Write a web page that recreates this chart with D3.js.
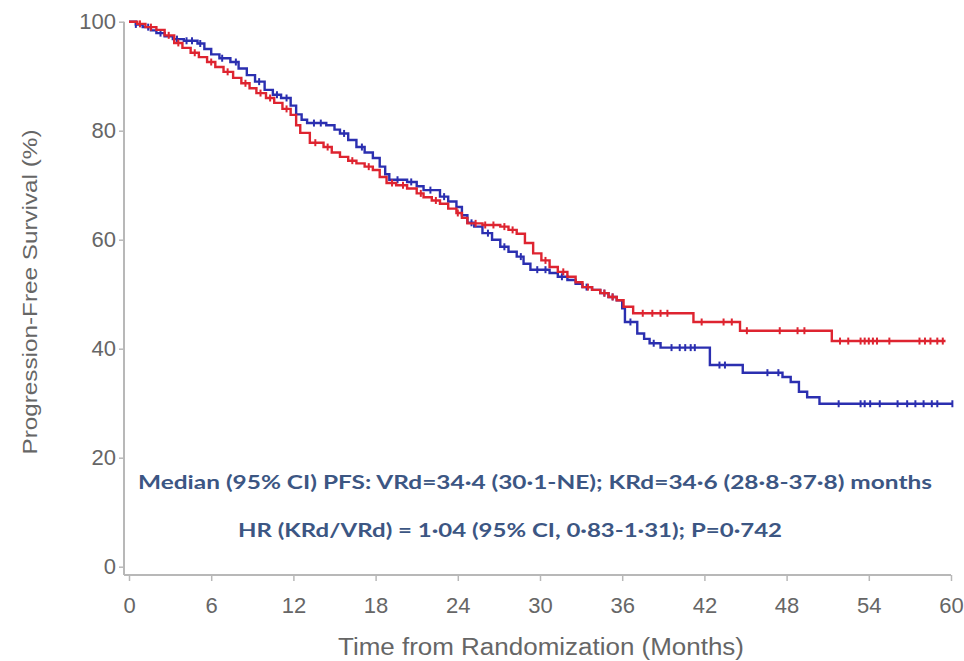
<!DOCTYPE html>
<html lang="en">
<head>
<meta charset="UTF-8">
<title>PFS KRd vs VRd</title>
<script src="https://cdn.jsdelivr.net/npm/d3@7"></script>
<style>
  body { margin: 0; background: #fff; }
</style>
</head>
<body>
<div id="app"></div>
<script>
// step points: [month, PFS %]
var vrdSteps = [
  [0, 100], [0.5, 99.5], [1.0, 99.0], [1.6, 98.4], [2.0, 97.9], [2.6, 97.3], [3.2, 96.8],
  [4.0, 96.5], [5.0, 96.0], [5.5, 95.0], [6.0, 94.0], [6.6, 93.3], [7.4, 92.6], [8.0, 91.4],
  [8.6, 90.2], [9.2, 89.0], [9.9, 87.5], [10.5, 86.6], [11.1, 86.0], [11.8, 84.6], [12.2, 83.0],
  [12.6, 82.0], [13.0, 81.4], [14.4, 81.0], [15.0, 80.2], [15.4, 79.5], [16.0, 78.3], [16.6, 77.0],
  [17.2, 76.0], [17.8, 75.0], [18.3, 73.4], [18.7, 72.0], [19.0, 71.0], [20.3, 70.6], [21.0, 69.8],
  [21.5, 69.1], [22.7, 67.9], [23.3, 67.0], [23.9, 66.0], [24.3, 64.5], [24.7, 63.1], [25.2, 62.4],
  [25.8, 61.2], [26.5, 60.0], [27.1, 58.7], [27.7, 57.8], [28.3, 56.9], [28.8, 55.6], [29.3, 54.5],
  [30.7, 53.9], [31.3, 53.2], [32.0, 52.6], [32.6, 51.9], [33.1, 51.3], [33.8, 50.8], [34.4, 50.2],
  [35.0, 49.5], [35.6, 48.9], [36.0, 47.4], [36.2, 44.9], [37.1, 42.8], [37.6, 41.8], [38.0, 41.0],
  [38.8, 40.2], [42.4, 37.0], [44.8, 35.6], [47.7, 34.8], [48.3, 33.9], [48.9, 32.1], [49.5, 31.1],
  [50.4, 29.9]
];
var vrdEnd = 60.1;

var krdSteps = [
  [0, 100], [0.6, 99.6], [1.2, 99.0], [2.0, 98.5], [2.6, 97.5], [3.3, 96.1], [3.9, 95.2],
  [4.5, 94.3], [5.1, 93.5], [5.7, 92.6], [6.3, 91.7], [6.9, 90.8], [7.6, 89.7], [8.2, 88.7],
  [8.8, 87.8], [9.3, 86.9], [10.0, 86.0], [10.6, 85.1], [11.2, 84.0], [11.8, 82.9], [12.2, 81.0],
  [12.5, 79.6], [13.2, 77.8], [14.2, 77.0], [14.8, 76.0], [15.4, 75.2], [16.0, 74.5], [16.6, 74.0],
  [17.2, 73.4], [17.8, 72.8], [18.3, 71.5], [18.8, 70.4], [19.5, 70.0], [20.3, 69.4], [21.0, 68.5],
  [21.5, 67.8], [22.1, 67.2], [22.7, 66.6], [23.3, 65.7], [23.9, 64.9], [24.3, 64.0], [24.7, 63.0],
  [25.8, 62.7], [27.1, 62.4], [27.7, 61.8], [28.3, 61.1], [28.9, 59.4], [29.5, 57.5], [30.1, 56.2],
  [30.7, 55.0], [31.3, 54.1], [32.0, 53.2], [32.6, 52.2], [33.1, 51.3], [33.8, 50.8], [34.4, 50.2],
  [35.0, 49.5], [35.6, 48.9], [36.1, 47.7], [36.8, 46.5], [41.2, 44.9], [44.6, 43.3], [51.3, 41.4]
];
var krdEnd = 59.6;

// censoring times (months)
var vrdCensor = [0.5, 1.4, 2.3, 3.5, 4.2, 4.6, 5.2, 6.8, 7.8, 9.5, 10.8, 11.5, 13.5, 14.0, 15.7,
  17.0, 19.6, 20.6, 22.0, 23.0, 25.0, 26.2, 27.4, 28.6, 29.8, 30.4, 31.6, 33.4, 34.7, 35.3, 36.6,
  38.3, 39.6, 40.2, 40.6, 41.0, 41.3, 43.1, 43.5, 46.6, 47.4, 51.8, 53.4, 53.7, 54.1, 54.8, 56.1,
  56.8, 57.4, 58.0, 58.6, 59.0, 60.1];
var krdCensor = [0.8, 1.6, 2.9, 3.6, 4.8, 6.0, 7.2, 8.5, 9.6, 10.3, 11.5, 13.6, 14.5, 16.3, 17.5,
  19.2, 20.0, 21.3, 22.4, 24.0, 25.3, 26.0, 26.6, 27.4, 28.0, 30.4, 31.7, 33.5, 34.7, 35.3, 37.5,
  38.2, 38.8, 39.3, 41.8, 43.4, 44.0, 45.1, 47.5, 48.8, 49.3, 51.9, 52.5, 53.4, 53.7, 54.0, 54.3,
  54.6, 55.5, 57.7, 58.1, 58.5, 59.0, 59.4];

var xTicks = [0, 6, 12, 18, 24, 30, 36, 42, 48, 54, 60];
var yTicks = [0, 20, 40, 60, 80, 100];

var line1 = "Median (95% CI) PFS: VRd=34\u00b74 (30\u00b71-NE); KRd=34\u00b76 (28\u00b78-37\u00b78)  months";
var line2 = "HR (KRd/VRd) = 1\u00b704 (95% CI, 0\u00b783-1\u00b731); P=0\u00b7742";

var width = 964, height = 661;
var blue = "#2b2fb0", red = "#de2430";
var axisGray = "#b8b8b8", labelGray = "#666";
var sans = "'Liberation Sans', Arial, sans-serif";

var svg = d3.select("#app").append("svg")
  .attr("width", width)
  .attr("height", height);

var x = d3.scaleLinear().domain([0, 60]).range([129, 951]);
var y = d3.scaleLinear().domain([0, 100]).range([566.7, 21.7]);

// axes (offset like the original)
var xAxis = svg.append("g")
  .attr("transform", "translate(0,575)")
  .call(d3.axisBottom(x).tickValues(xTicks).tickSize(6).tickPadding(16));
var yAxis = svg.append("g")
  .attr("transform", "translate(124,0)")
  .call(d3.axisLeft(y).tickValues(yTicks).tickSize(5).tickPadding(3));

[xAxis, yAxis].forEach(function (a) {
  a.select(".domain").attr("stroke", axisGray).attr("stroke-width", 2);
  a.selectAll(".tick line").attr("stroke", axisGray).attr("stroke-width", 1.5);
  a.selectAll(".tick text")
    .attr("fill", labelGray)
    .style("font-family", sans)
    .style("font-size", "22px");
});
xAxis.select(".domain").attr("d", "M124,0H951");
yAxis.select(".domain").attr("d", "M0,21.7V575");

svg.append("text")
  .attr("x", 541).attr("y", 655)
  .attr("text-anchor", "middle")
  .attr("fill", labelGray)
  .attr("textLength", 406)
  .attr("lengthAdjust", "spacingAndGlyphs")
  .style("font-family", sans)
  .style("font-size", "23px")
  .text("Time from Randomization (Months)");

svg.append("text")
  .attr("transform", "translate(37,292) rotate(-90)")
  .attr("text-anchor", "middle")
  .attr("fill", labelGray)
  .attr("textLength", 325)
  .attr("lengthAdjust", "spacingAndGlyphs")
  .style("font-family", sans)
  .style("font-size", "20px")
  .text("Progression-Free Survival (%)");

function survAt(steps, t) {
  var v = steps[0][1];
  steps.forEach(function (s) { if (s[0] <= t) v = s[1]; });
  return v;
}

function drawArm(steps, end, censor, color) {
  var pts = steps.concat([[end, steps[steps.length - 1][1]]]);
  var line = d3.line()
    .x(function (d) { return x(d[0]); })
    .y(function (d) { return y(d[1]); })
    .curve(d3.curveStepAfter);

  svg.append("path")
    .datum(pts)
    .attr("fill", "none")
    .attr("stroke", color)
    .attr("stroke-width", 2.4)
    .attr("d", line);

  svg.append("g").selectAll("line")
    .data(censor)
    .enter()
    .append("line")
    .attr("x1", function (d) { return x(d); })
    .attr("x2", function (d) { return x(d); })
    .attr("y1", function (d) { return y(survAt(steps, d)) - 3.5; })
    .attr("y2", function (d) { return y(survAt(steps, d)) + 3.5; })
    .attr("stroke", color)
    .attr("stroke-width", 2);
}

drawArm(vrdSteps, vrdEnd, vrdCensor, blue);
drawArm(krdSteps, krdEnd, krdCensor, red);

var note = svg.append("g")
  .style("font-family", "Lato, 'Open Sans', sans-serif")
  .style("font-weight", "bold")
  .style("font-size", "18px")
  .attr("fill", "#3c5683");

note.append("text")
  .attr("x", 138).attr("y", 489)
  .attr("textLength", 794)
  .attr("lengthAdjust", "spacingAndGlyphs")
  .text(line1);

note.append("text")
  .attr("x", 238).attr("y", 537)
  .attr("textLength", 544)
  .attr("lengthAdjust", "spacingAndGlyphs")
  .text(line2);
</script>
</body>
</html>
